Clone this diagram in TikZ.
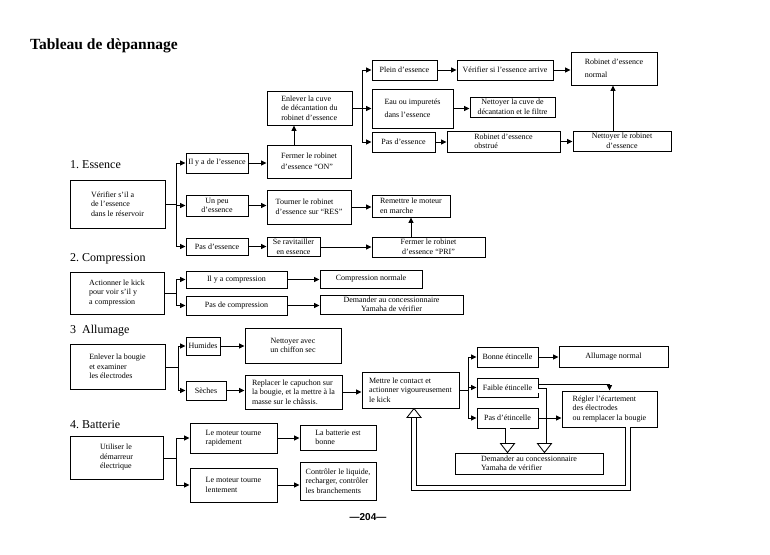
\documentclass[tikz,border=0pt]{standalone}
\usepackage{fontspec}
\setmainfont{Liberation Serif}
\newfontfamily\pgsans{Liberation Sans}
\usetikzlibrary{arrows.meta,calc}
\tikzset{
 tbox/.style={draw, line width=0.95pt, inner sep=1.5pt, font=\fontsize{8}{9.5}\selectfont},
 arw/.style={line width=0.85pt, -{Triangle[length=5.5pt,width=5pt]}},
 conn/.style={line width=0.85pt},
 dline/.style={double, double distance=4pt, line width=0.85pt},
 hollow/.style={draw, fill=white, line width=0.85pt, line join=miter},
 seclabel/.style={anchor=west, inner sep=0pt, font=\fontsize{12}{14}\selectfont},
}
\newcommand\mkbox[7][left]{\node[tbox, align=#1, minimum width={(#5-#3)*1pt}, minimum height={(#6-#4)*1pt}] (#2) at ({(#3+#5)/2},{(#4+#6)/2}) {#7};}
\newcommand\hdown[1]{\draw[hollow] ($(#1)+(-7,-9)$) -- ($(#1)+(7,-9)$) -- (#1) -- cycle;}
\newcommand\hup[1]{\draw[hollow] ($(#1)+(-7,9)$) -- ($(#1)+(7,9)$) -- (#1) -- cycle;}
\begin{document}
\begin{tikzpicture}[x=1pt,y=-1pt]
\fill[white] (0,0) rectangle (770,554);
\useasboundingbox (0,0) rectangle (770,554);
\node[anchor=west, inner sep=0pt, font=\bfseries\fontsize{15.5}{17}\selectfont] (title) at (30,46) {Tableau de dèpannage};

% section labels
\node[seclabel] (s1) at (70,165) {1.\ Essence};
\node[seclabel] (s2) at (70,259) {2.\ Compression};
\node[seclabel] (s3) at (70,331) {3\ \ Allumage};
\node[seclabel] (s4) at (70,425) {4.\ Batterie};

% ---------- 1. Essence
\mkbox{v1}{70}{180}{165}{228}{Vérifier s'il a\\de l'essence\\dans le réservoir}
\mkbox{ilya}{186}{153}{248}{173}{Il y a de l'essence}
\mkbox[center]{unpeu}{186}{195}{248}{216}{Un peu\\d'essence}
\mkbox{pase}{186}{238}{248}{255}{Pas d'essence}
\mkbox{fon}{267}{145}{351}{178}{Fermer le robinet\\[2pt]d'essence “ON”}
\mkbox{enl}{267}{91}{352}{125}{Enlever la cuve\\de décantation du\\robinet d'essence}
\mkbox{plein}{372}{60}{437}{80}{Plein d'essence}
\mkbox{eau}{372}{89}{453}{128}{Eau ou impuretés\\[3pt]dans l'essence}
\mkbox{pase2}{372}{132}{435}{152}{Pas d'essence}
\mkbox{vsa}{457}{60}{553}{80}{Vérifier si l'essence arrive}
\mkbox[center]{ncf}{470}{97}{555}{117}{Nettoyer la cuve de\\décantation et le filtre}
\mkbox{rob}{447}{131}{560}{152}{Robinet d'essence\\obstrué}
\mkbox[center]{nrob}{573}{131}{671}{151}{Nettoyer le robinet\\d'essence}
\mkbox{rnorm}{571}{52}{657}{85}{Robinet d'essence\\[4pt]normal}
\mkbox{tou}{267}{190}{351}{224}{Tourner le robinet\\d'essence sur “RES”}
\mkbox[center]{rav}{267}{238}{320}{256}{Se ravitailler\\en essence}
\mkbox{rem}{372}{195}{450}{217}{Remettre le moteur\\en marche}
\mkbox[center]{fpri}{372}{237}{485}{257}{Fermer le robinet\\d'essence “PRI”}

\coordinate (b1) at (176,204);
\draw[conn] (v1.east |- b1) -- (b1);
\draw[arw] (b1) |- (ilya.west);
\draw[arw] (b1) |- (unpeu.west);
\draw[arw] (b1) |- (pase.west);
\draw[arw] (ilya.east) -- (ilya.east -| fon.west);
\draw[arw] (unpeu.east) -- (unpeu.east -| tou.west);
\draw[arw] (pase.east) -- (pase.east -| rav.west);
\draw[arw] ([xshift=-15pt]fon.north) -- ([xshift=-15pt]fon.north |- enl.south);
\coordinate (b2) at (362,108);
\draw[conn] (enl.east) -- (b2);
\draw[arw] (b2) |- (plein.west);
\draw[arw] (b2) |- (eau.west);
\draw[arw] (b2) |- (pase2.west);
\draw[arw] (plein.east) -- (plein.east -| vsa.west);
\draw[arw] (eau.east) -- (eau.east -| ncf.west);
\draw[arw] (pase2.east) -- (pase2.east -| rob.west);
\draw[arw] (rob.east) -- (rob.east -| nrob.west);
\draw[arw] (vsa.east) -- (vsa.east -| rnorm.west);
\draw[arw] ([xshift=-9pt]nrob.north) -- ([xshift=-9pt]nrob.north |- rnorm.south);
\draw[arw] (tou.east) -- (tou.east -| rem.west);
\draw[arw] (rav.east) -- (rav.east -| fpri.west);
\draw[arw] (fpri.north -| rem.south) -- (rem.south);

% ---------- 2. Compression
\mkbox{act}{70}{272}{164}{314}{Actionner le kick\\pour voir s'il y\\a compression}
\mkbox[center]{iyc}{186}{271}{287}{288}{Il y a compression}
\mkbox[center]{pdc}{186}{296}{287}{315}{Pas de compression}
\mkbox[center]{cn}{320}{270}{422}{288}{Compression normale}
\mkbox[center]{dav}{320}{295}{463}{314}{Demander au concessionnaire\\Yamaha de vérifier}
\coordinate (b3) at (176,293);
\draw[conn] (act.east |- b3) -- (b3);
\draw[arw] (b3) |- (iyc.west);
\draw[arw] (b3) |- (pdc.west);
\draw[arw] (iyc.east) -- (iyc.east -| cn.west);
\draw[arw] (pdc.east) -- (pdc.east -| dav.west);

% ---------- 3. Allumage
\mkbox{enb}{70}{344}{165}{389}{Enlever la bougie\\et examiner\\les électrodes}
\mkbox[center]{hum}{186}{337}{220}{355}{Humides}
\mkbox[center]{sec}{186}{381}{226}{400}{Sèches}
\mkbox[center]{nav}{245}{328}{341}{363}{Nettoyer avec\\un chiffon sec}
\mkbox{rep}{245}{375}{342}{409}{Replacer le capuchon sur\\la bougie, et la mettre à la\\masse sur le châssis.}
\mkbox{mc}{362}{372}{459}{408}{Mettre le contact et\\actionner vigoureusement\\le kick}
\mkbox[center]{bon}{477}{347}{538}{367}{Bonne étincelle}
\mkbox[center]{aln}{559}{346}{668}{367}{Allumage normal}
\mkbox[center]{fai}{477}{378}{538}{397}{Faible étincelle}
\mkbox[center]{pet}{477}{408}{538}{428}{Pas d'étincelle}
\mkbox{reg}{562}{391}{657}{427}{Régler l'écartement\\des électrodes\\ou remplacer la bougie}
\mkbox{dem}{455}{453}{603}{474}{Demander au concessionnaire\\Yamaha de vérifier}

\coordinate (b4) at (178,367);
\draw[conn] (enb.east |- b4) -- (b4);
\draw[arw] (b4) |- (hum.west);
\draw[arw] (b4) |- (sec.west);
\draw[arw] (hum.east) -- (hum.east -| nav.west);
\draw[arw] (sec.east) -- (sec.east -| rep.west);
\draw[arw] (rep.east) -- (rep.east -| mc.west);
\coordinate (b5) at (468,390);
\draw[conn] (mc.east |- b5) -- (b5);
\draw[arw] (b5) |- (bon.west);
\draw[arw] (b5) |- (fai.west);
\draw[arw] (b5) |- (pet.west);
\draw[arw] (bon.east) -- (bon.east -| aln.west);

% double (hollow) arrows
\coordinate (fk) at ($(fai.east)+(6,3)$);
\coordinate (a1) at (fk |- dem.north);
\draw[dline] ([yshift=-3pt]fai.east) -- (fk) -- ($(a1)+(0,-9)$);
\hdown{a1}
\coordinate (a2) at (pet.south |- dem.north);
\draw[dline] (pet.south) -- ($(a2)+(0,-9)$);
\hdown{a2}
\coordinate (lr) at (628,488);
\coordinate (ll) at (414,488);
\coordinate (a3) at (ll |- mc.south);
\draw[dline] (reg.south -| lr) -- (lr) -- (ll) -- ($(a3)+(0,9)$);
\hup{a3}

\draw[arw] ([yshift=3pt]fai.east) -| (reg.north);
\draw[arw] (pet.east) -- (pet.east -| reg.west);

% ---------- 4. Batterie
\mkbox{ude}{70}{436}{163}{479}{Utiliser le\\démarreur\\électrique}
\mkbox{mtr}{190}{423}{277}{453}{Le moteur tourne\\rapidement}
\mkbox{mtl}{190}{468}{277}{502}{Le moteur tourne\\lentement}
\mkbox{bat}{300}{425}{376}{450}{La batterie est\\bonne}
\mkbox{ctl}{300}{462}{376}{500}{Contrôler le liquide,\\recharger, contrôler\\les branchements}
\coordinate (b6) at (176,458);
\draw[conn] (ude.east |- b6) -- (b6);
\draw[arw] (b6) |- (mtr.west);
\draw[arw] (b6) |- (mtl.west);
\draw[arw] (mtr.east) -- (mtr.east -| bat.west);
\draw[arw] (mtl.east) -- (mtl.east -| ctl.west);

\node[inner sep=0pt, font=\pgsans\bfseries\fontsize{10}{12}\selectfont] (page) at (368,517) {\textemdash 204\textemdash};
\end{tikzpicture}
\end{document}
